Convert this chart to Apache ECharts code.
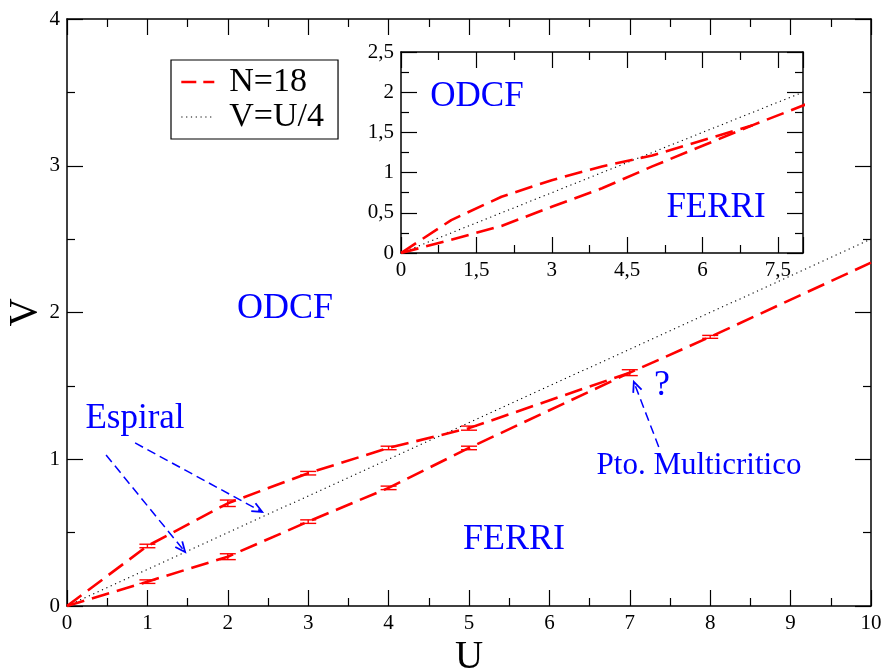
<!DOCTYPE html>
<html>
<head>
<meta charset="utf-8">
<script src="https://cdn.jsdelivr.net/npm/echarts@6/dist/echarts.min.js"></script>
<style>
html,body{margin:0;padding:0;background:#fff;}
#chart{width:885px;height:669px;}
</style>
</head>
<body>
<div id="chart"></div>
<script>
// ---- data ----
const upperU = [0, 1, 2, 3, 4, 5, 7];
const upperV = [0, 0.409, 0.700, 0.905, 1.077, 1.212, 1.590];
const lowerU = [0, 1, 2, 3, 4, 5, 7, 8, 10];
const lowerV = [0, 0.166, 0.336, 0.575, 0.805, 1.077, 1.590, 1.834, 2.340];
const errU = [1, 2, 3, 4, 5, 1, 2, 3, 4, 5, 7, 8];
const errV = [0.409, 0.700, 0.905, 1.077, 1.212, 0.166, 0.336, 0.575, 0.805, 1.077, 1.590, 1.834];
const errD = [0.012, 0.022, 0.012, 0.012, 0.014, 0.012, 0.020, 0.012, 0.012, 0.012, 0.020, 0.010];
const refU = [0, 10];
const refV = [0, 2.5];
const mainXTicks = [0, 10, 1];
const mainYTicks = [0, 4, 1];
const insetXTicks = [0, 8, 1.5];
const insetYTicks = [0, 2.5, 0.5];
// annotation arrows (data coords)
const arrowsFrom = [[0.847, 1.111], [0.486, 1.029], [7.36, 1.084]];
const arrowsTo = [[2.428, 0.641], [1.469, 0.368], [7.05, 1.527]];

const FONT = '"Liberation Serif", "DejaVu Serif", serif';
const RED = '#ff0000';
const BLUE = '#0000ff';

const pairs = (xs, ys) => xs.map((x, i) => [x, ys[i]]);
const upperData = pairs(upperU, upperV);
const lowerData = pairs(lowerU, lowerV);
const refData = pairs(refU, refV);
const errData = errU.map((x, i) => [x, errV[i], errD[i]]);

const chart = echarts.init(document.getElementById('chart'), null, {renderer: 'canvas'});

function axisBase(extra) {
  return Object.assign({
    type: 'value',
    axisLine: {show: true, onZero: false, lineStyle: {color: '#000', width: 1.5}},
    axisTick: {show: true, inside: true, length: 16, lineStyle: {color: '#000', width: 1.2}},
    minorTick: {show: true, splitNumber: 2, length: 8, lineStyle: {color: '#000', width: 1.2}},
    splitLine: {show: false},
    minorSplitLine: {show: false},
    axisLabel: {show: true, color: '#000', fontFamily: FONT, fontSize: 21, margin: 7}
  }, extra);
}
const comma = v => String(v).replace('.', ',');

const dashRed = {color: RED, width: 2.6, type: [18, 8]};
const dotBlack = {color: '#000', width: 1.1, type: [1.2, 3.6]};

function errRender(params, api) {
  const x = api.value(0), y = api.value(1), d = api.value(2);
  const t = api.coord([x, y + d]);
  const b = api.coord([x, y - d]);
  const hw = 8;
  const st = {stroke: RED, lineWidth: 1.4};
  return {type: 'group', children: [
    {type: 'line', shape: {x1: t[0], y1: t[1], x2: b[0], y2: b[1]}, style: st},
    {type: 'line', shape: {x1: t[0] - hw, y1: t[1], x2: t[0] + hw, y2: t[1]}, style: st},
    {type: 'line', shape: {x1: b[0] - hw, y1: b[1], x2: b[0] + hw, y2: b[1]}, style: st}
  ]};
}

const textGraphics = [
  {type: 'text', x: 285, y: 309, z: 20, style: {text: 'ODCF', font: '36px ' + FONT, fill: BLUE, align: 'center', verticalAlign: 'middle'}},
  {type: 'text', x: 514, y: 540, z: 20, style: {text: 'FERRI', font: '36px ' + FONT, fill: BLUE, align: 'center', verticalAlign: 'middle'}},
  {type: 'text', x: 135, y: 419, z: 20, style: {text: 'Espiral', font: '35px ' + FONT, fill: BLUE, align: 'center', verticalAlign: 'middle'}},
  {type: 'text', x: 699, y: 466, z: 20, style: {text: 'Pto. Multicritico', font: '31px ' + FONT, fill: BLUE, align: 'center', verticalAlign: 'middle'}},
  {type: 'text', x: 662, y: 386, z: 20, style: {text: '?', font: '36px ' + FONT, fill: BLUE, align: 'center', verticalAlign: 'middle'}},
  {type: 'text', x: 477, y: 97, z: 20, style: {text: 'ODCF', font: '35px ' + FONT, fill: BLUE, align: 'center', verticalAlign: 'middle'}},
  {type: 'text', x: 716, y: 208, z: 20, style: {text: 'FERRI', font: '35px ' + FONT, fill: BLUE, align: 'center', verticalAlign: 'middle'}}
];

const option = {
  animation: false,
  backgroundColor: '#fff',
  grid: [
    {left: 67, top: 19, right: 14, bottom: 63, show: false, outerBoundsMode: 'none', containLabel: false},
    {left: 401, top: 52, right: 82, bottom: 416, show: true, backgroundColor: '#fff', borderWidth: 0, z: 5,
      outerBoundsMode: 'none', containLabel: false}
  ],
  xAxis: [
    axisBase({gridIndex: 0, min: mainXTicks[0], max: mainXTicks[1], interval: mainXTicks[2], position: 'bottom',
      name: 'U', nameLocation: 'middle', nameGap: 32, nameMoveOverlap: false,
      nameTextStyle: {fontFamily: FONT, fontSize: 39, color: '#000'}}),
    axisBase({gridIndex: 0, min: mainXTicks[0], max: mainXTicks[1], interval: mainXTicks[2], position: 'top',
      axisLabel: {show: false}}),
    axisBase({gridIndex: 1, min: insetXTicks[0], max: insetXTicks[1], interval: insetXTicks[2], position: 'bottom', z: 6,
      axisLabel: {show: true, color: '#000', fontFamily: FONT, fontSize: 21, margin: 7, formatter: comma, showMaxLabel: false}}),
    axisBase({gridIndex: 1, min: insetXTicks[0], max: insetXTicks[1], interval: insetXTicks[2], position: 'top', z: 6,
      axisLabel: {show: false}})
  ],
  yAxis: [
    axisBase({gridIndex: 0, min: mainYTicks[0], max: mainYTicks[1], interval: mainYTicks[2], position: 'left',
      name: 'V', nameLocation: 'middle', nameGap: 22, nameRotate: 90, nameMoveOverlap: false,
      nameTextStyle: {fontFamily: FONT, fontSize: 39, color: '#000'}}),
    axisBase({gridIndex: 0, min: mainYTicks[0], max: mainYTicks[1], interval: mainYTicks[2], position: 'right',
      axisLabel: {show: false}}),
    axisBase({gridIndex: 1, min: insetYTicks[0], max: insetYTicks[1], interval: insetYTicks[2], position: 'left', z: 6,
      axisLabel: {show: true, color: '#000', fontFamily: FONT, fontSize: 21, margin: 7, formatter: comma}}),
    axisBase({gridIndex: 1, min: insetYTicks[0], max: insetYTicks[1], interval: insetYTicks[2], position: 'right', z: 6,
      axisLabel: {show: false}})
  ],
  legend: {
    show: true,
    orient: 'vertical',
    left: 171, top: 60,
    padding: [5, 14, 5, 9],
    itemGap: 1,
    itemWidth: 33, itemHeight: 14,
    borderColor: '#000', borderWidth: 1.2,
    backgroundColor: '#fff',
    z: 10,
    itemStyle: {opacity: 0},
    textStyle: {fontFamily: FONT, fontSize: 34, color: '#000', lineHeight: 30, padding: [0, 0, 0, 10]},
    data: [
      {name: 'N=18', itemStyle: {opacity: 0}, lineStyle: {color: RED, width: 2.6, type: [15, 7]}},
      {name: 'V=U/4', itemStyle: {opacity: 0}, lineStyle: {color: '#000', width: 1.1, type: [1.2, 3.6]}}
    ]
  },
  series: [
    {name: 'V=U/4', type: 'line', xAxisIndex: 0, yAxisIndex: 0, data: refData, symbol: 'none',
      lineStyle: dotBlack, itemStyle: {color: '#000'}, z: 2},
    {name: 'N=18', type: 'line', xAxisIndex: 0, yAxisIndex: 0, data: upperData, symbol: 'none',
      lineStyle: dashRed, itemStyle: {color: RED}, z: 3},
    {name: 'N=18', type: 'line', xAxisIndex: 0, yAxisIndex: 0, data: lowerData, symbol: 'none',
      lineStyle: dashRed, itemStyle: {color: RED}, z: 3},
    {name: 'err', type: 'custom', xAxisIndex: 0, yAxisIndex: 0, data: errData, renderItem: errRender, z: 4},
    {name: 'V=U/4', type: 'line', xAxisIndex: 2, yAxisIndex: 2, data: refData, symbol: 'none',
      lineStyle: dotBlack, itemStyle: {color: '#000'}, z: 7},
    {name: 'N=18', type: 'line', xAxisIndex: 2, yAxisIndex: 2, data: upperData, symbol: 'none',
      lineStyle: dashRed, itemStyle: {color: RED}, z: 8},
    {name: 'N=18', type: 'line', xAxisIndex: 2, yAxisIndex: 2, data: lowerData, symbol: 'none',
      lineStyle: dashRed, itemStyle: {color: RED}, z: 8}
  ],
  graphic: textGraphics
};
chart.setOption(option);

// arrows placed through the main grid's coordinate system
const arrowGraphics = [];
arrowsFrom.forEach((f, i) => {
  const p0 = chart.convertToPixel({gridIndex: 0}, f);
  const p1 = chart.convertToPixel({gridIndex: 0}, arrowsTo[i]);
  const ang = Math.atan2(p1[1] - p0[1], p1[0] - p0[0]);
  const L = 11, spread = 0.42;
  const h1 = [p1[0] - L * Math.cos(ang - spread), p1[1] - L * Math.sin(ang - spread)];
  const h2 = [p1[0] - L * Math.cos(ang + spread), p1[1] - L * Math.sin(ang + spread)];
  arrowGraphics.push({type: 'line', z: 15, shape: {x1: p0[0], y1: p0[1], x2: p1[0], y2: p1[1]},
    style: {stroke: BLUE, lineWidth: 1.5, lineDash: [9, 5]}});
  arrowGraphics.push({type: 'polyline', z: 15, shape: {points: [h1, p1, h2]},
    style: {stroke: BLUE, lineWidth: 1.8, fill: null}});
});
chart.setOption({graphic: textGraphics.concat(arrowGraphics)}, {replaceMerge: ['graphic']});
</script>
</body>
</html>
